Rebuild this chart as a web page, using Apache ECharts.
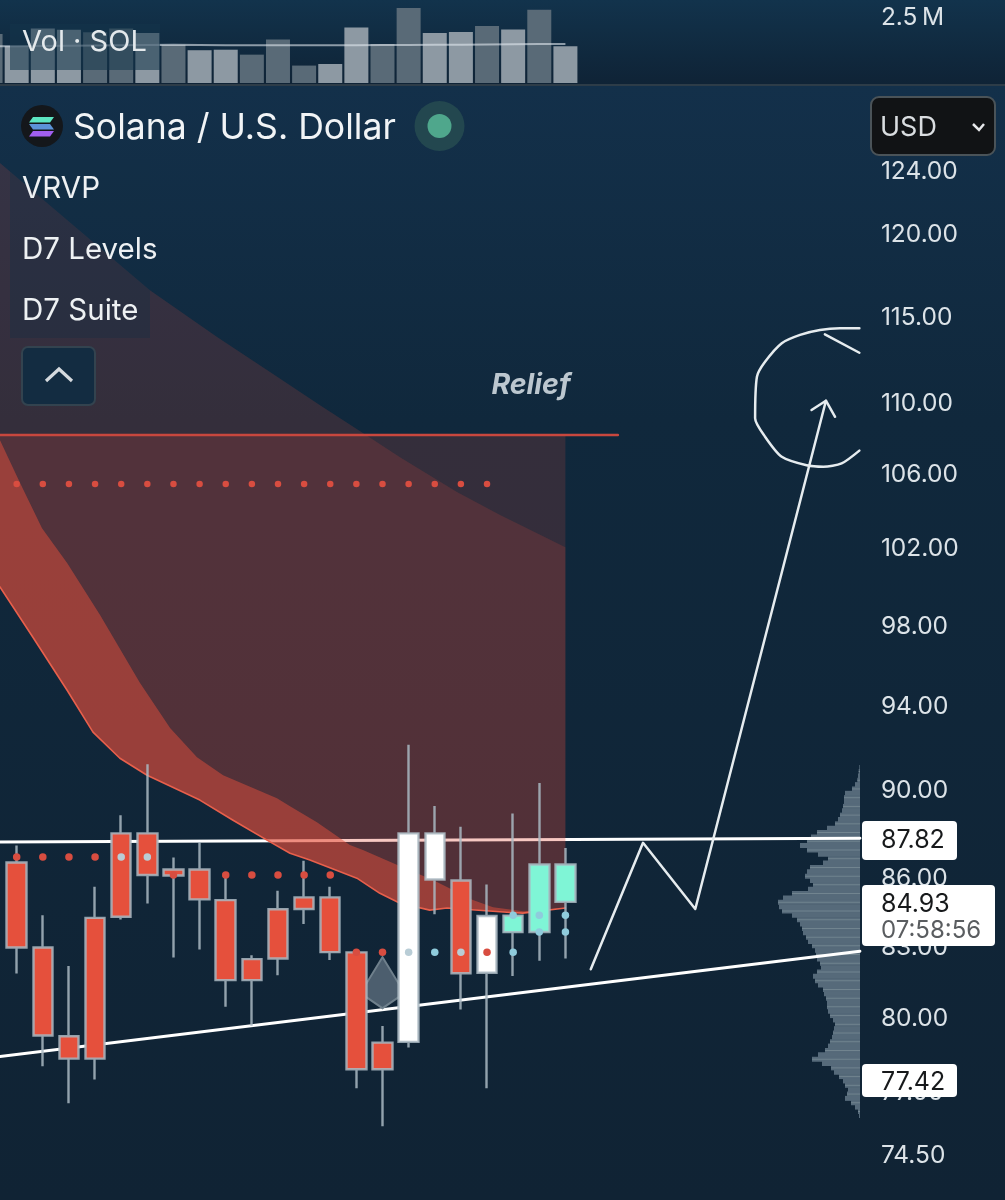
<!DOCTYPE html>
<html><head><meta charset="utf-8">
<style>html,body{margin:0;padding:0}
#c{width:1005px;height:1200px;background:linear-gradient(#12334c 0,#0f2336 84px,#13304a 86px,#10283c 420px,#102334 1200px)}</style>
<script src="https://cdn.jsdelivr.net/npm/echarts@6/dist/echarts.min.js"></script>
</head><body><div id="c"></div>
<script>
// ---- data ----
const candles = [ // open, close, low, high
 ['-','-','-','-'],
 [86.72,82.99,81.88,87.49],[82.99,79.29,78.04,84.39],[79.26,78.35,76.56,82.20],[84.27,78.35,77.51,85.64],
 [88.04,84.32,84.20,88.87],[88.04,86.16,84.90,91.25],[86.41,86.14,82.56,86.95],[86.41,85.08,82.90,87.65],
 [85.05,81.60,80.48,86.16],[82.49,81.60,79.69,82.66],[84.65,82.52,81.80,85.46],[85.17,84.66,84.00,86.80],
 [85.17,82.79,82.45,85.64],[82.78,77.92,77.16,82.79],[79.00,77.92,75.65,79.68],[88.04,79.03,78.80,92.17],
 [88.04,85.96,84.43,89.30],[85.92,81.89,80.37,88.34],[84.35,81.91,77.16,85.74],[83.65,84.37,81.77,88.95],
 [83.66,86.63,82.42,90.37],[84.97,86.63,82.52,87.38]];
const candleKinds = ['r','r','r','r','r','r','r','r','r','r','r','r','r','r','r','r','w','w','r','w','t','t','t'];
const volumes = [1.88,1.41,2.09,2.05,1.95,2.09,1.92,1.47,1.26,1.28,1.09,1.67,0.67,0.73,2.13,1.50,2.88,1.92,1.96,2.19,2.06,2.82,1.41];
const volumeKinds = ['d','l','l','l','d','d','l','d','l','l','d','d','d','l','l','d','d','l','l','d','l','d','l'];
const volumeAverage = [1.41,1.41,1.42,1.43,1.44,1.45,1.46,1.47,1.46,1.45,1.45,1.45,1.45,1.45,1.45,1.46,1.46,1.47,1.47,1.48,1.49,1.50,1.50];
const categories = Array.from({length:34},(_,i)=>'Bar '+i);
const priceTicks = [74.5,77,80,83,86,90,94,98,102,106,110,115,120,124];
const volumeTicks = [2.5];
const profile = [0.7,1.3,2,2.7,5,8,15,16,16,17,18,20,22,25,33,43,49,53,60,53,42,32,37,50,53,55,50,47,52,68,77,82,81,78,68,63,60,58,57,54,52,48,45,44,43,40,39,43,47,45,42,37,36,34,33,33,32,30,27,25,26,27,28,30,32,35,42,48,38,29,26,21,17,15,12,13,15,9,5,2,1];
const redDots = [[1,86.97],[2,86.97],[3,86.97],[4,86.97],[7,86.16],[9,86.16],[10,86.16],[11,86.16],[12,86.16],[13,86.16],[14,82.78],[15,82.78],[19,82.78]];
const paleDots = [[5,86.97],[6,86.97],[16,82.78],[18,82.78]];
const blueDots = [[17,82.78],[20,82.78],[20,84.39],[21,84.39],[22,84.39],[21,83.66],[22,83.66]];
const upperDots = [1,2,3,4,5,6,7,8,9,10,11,12,13,14,15,16,17,18,19].map(i=>[i,105.49]);
const cloudTop = [[.36,124.57],[6.10,116.63],[8.67,113.83],[10.58,111.90],[12.61,109.89],[14.25,108.31],[15.67,106.97],[17.85,105.06],[19.50,103.82],[22,102.10]];
const bandUpper = [[.36,107.92],[1.13,105.55],[1.97,103.11],[2.93,101.26],[4.19,98.58],[5.72,95.17],[6.87,92.97],[7.90,91.58],[8.90,90.73],[10.96,89.66],[11.46,89.29],[12.49,88.55],[13.75,87.51],[14.25,87.28],[15.59,86.60],[16.93,85.94],[18.46,85.05],[19.23,84.74],[20.39,84.56],[22,84.70]];
const bandLower = [[.36,100.02],[1.62,97.45],[2.93,94.81],[3.92,92.78],[4.95,91.53],[5.99,90.73],[8.01,89.57],[9.28,88.64],[10.58,87.73],[11.46,87.14],[12.22,86.83],[14.02,86.02],[14.90,85.35],[15.67,84.91],[16.81,84.61],[17.47,84.70],[19.76,84.52],[20.37,84.48],[22,84.70]];
const reliefLevel = 108.2;
const reliefLine = [[.36,reliefLevel],[24.01,reliefLevel]];
const resistance = [[.36,87.65],[33.27,87.82]];
const support = [[.36,78.44],[33.27,82.83]];
const pathArrow = [[22.97,82.06],[24.97,87.61],[26.97,84.66],[31.97,110.14]];
const arrowHead = [[31.42,109.61],[31.97,110.14],[32.32,109.23]];
const targetRing = [[33.25,114.35],[32.51,114.35],[31.74,114.25],[30.98,113.96],[30.28,113.47],[29.64,112.38],[29.33,111.52],[29.26,109.14],[29.64,108.11],[30.28,106.99],[31.23,106.52],[31.87,106.44],[32.57,106.62],[33.25,107.33]];
const targetTick = [[31.93,113.99],[33.25,112.91]];
const patternMark = [[15,81.49]];

// ---- styles ----
const RED='#e5503c', WHITE='#ffffff', TEAL='#7ff5d6', EDGE='rgba(170,184,194,.85)';
const kindColor={r:RED,w:WHITE,t:TEAL};
const FONT='Inter, "Noto Sans", sans-serif';
const grayLabel={color:'#dce3e8',fontSize:24.5,fontFamily:FONT,align:'left',margin:15,padding:[6,0,0,0]};

function polygon(name,pts,fill,z,stroke){
  return {type:'custom',name,xAxisIndex:1,yAxisIndex:0,z,silent:true,data:pts,encode:{x:0,y:1},
    renderItem(params,api){
      if(params.dataIndex!==0) return null;
      return {type:'polygon',shape:{points:pts.map(p=>api.coord(p))},style:{fill,stroke:stroke||null,lineWidth:stroke?1.5:0}};
    }};
}
function stroke(name,pts,color,width,z,smooth){
  return {type:'line',name,xAxisIndex:1,yAxisIndex:0,data:pts,showSymbol:false,symbol:'none',silent:true,z,smooth:smooth||false,
    lineStyle:{color,width,cap:'round',join:'round'},clip:false};
}
function dots(name,pts,color,size,z){
  return {type:'scatter',name,xAxisIndex:1,yAxisIndex:0,data:pts,symbolSize:size,silent:true,z,itemStyle:{color,opacity:1}};
}
const cloudPoly = cloudTop.concat(bandLower.slice().reverse());
const reliefPoly = [[.36,reliefLevel],[22,reliefLevel]].concat(bandLower.slice().reverse());
const bandPoly = bandUpper.concat(bandLower.slice().reverse());

const series=[
  stroke('Resistance',resistance,'#ffffff',3,2),
  stroke('Support',support,'#ffffff',3,2),
  polygon('Cloud',cloudPoly,'rgba(229,80,60,.17)',3),
  polygon('Relief zone',reliefPoly,'rgba(229,80,60,.17)',3),
  polygon('Band',bandPoly,'rgba(229,80,60,.49)',4),
  stroke('Band edge',bandLower,'#e8604c',1.6,4),
  stroke('Relief line',reliefLine,'#c8473e',2.4,4),
  {type:'scatter',name:'Pattern',xAxisIndex:1,yAxisIndex:0,data:patternMark,silent:true,z:5,
   symbol:'path://M22 0 L44 36 L22 51 L0 36 Z',symbolSize:[44,51],
   itemStyle:{color:'#4c5e6e',borderColor:'#6f808c',borderWidth:2,opacity:1}},
  {type:'candlestick',name:'SOLUSD',xAxisIndex:0,yAxisIndex:0,z:6,silent:true,barWidth:20,
   data:candles.map((v,i)=>{const c=kindColor[candleKinds[i]];
     return {value:v,itemStyle:{color:c,color0:c,borderColor:EDGE,borderColor0:EDGE,borderColorDoji:EDGE,borderWidth:2.4}};})},
  dots('Upper dots',upperDots,'#d84d40',6.5,7),
  dots('Red dots',redDots,'#d84d40',7.5,7),
  dots('Pale dots',paleDots,'#b9cdd6',7.5,7),
  dots('Blue dots',blueDots,'#8fcbdc',7.5,7),
  stroke('Projection',pathArrow,'#e6ecef',2.5,8),
  stroke('Arrow head',arrowHead,'#e6ecef',2.5,8),
  stroke('Target ring',targetRing,'#e6ecef',2.5,8,0.25),
  stroke('Target tick',targetTick,'#e6ecef',2.5,8),
  {type:'bar',name:'Volume',xAxisIndex:2,yAxisIndex:1,barWidth:24,silent:true,
   data:volumes.map((v,i)=>({value:v,itemStyle:{color:volumeKinds[i]==='l'?'#8d99a3':'#596a77'}}))},
  {type:'line',name:'Volume MA',xAxisIndex:2,yAxisIndex:1,data:volumeAverage,showSymbol:false,symbol:'none',silent:true,
   lineStyle:{color:'rgba(225,232,238,.6)',width:2}},
  {type:'bar',name:'Profile',xAxisIndex:3,yAxisIndex:2,data:profile,barWidth:5,silent:true,z:1,itemStyle:{color:'#566a7a'}},
  {type:'bar',name:'Profile rows',xAxisIndex:3,yAxisIndex:3,barWidth:1,silent:true,z:1,
   data:profile.map((v,i)=>i%2?v:null),itemStyle:{color:'#71848f'}}
];

const MAINLEFT=-22.5, MAINW=888.4;
const option={
  animation:false,
  backgroundColor:'transparent',
  grid:[
    {left:MAINLEFT,width:MAINW,top:86,height:1114,outerBoundsMode:'none'},
    {left:MAINLEFT,width:MAINW,top:0,height:83,outerBoundsMode:'none'},
    {left:760,width:100,top:765,height:353,outerBoundsMode:'none'}
  ],
  xAxis:[
    {type:'category',gridIndex:0,data:categories,show:false},
    {type:'value',gridIndex:0,min:-.5,max:33.5,show:false},
    {type:'category',gridIndex:1,data:categories,show:false},
    {type:'value',gridIndex:2,min:0,max:100,inverse:true,show:false}
  ],
  yAxis:[
    {type:'log',gridIndex:0,position:'right',logBase:10,min:72.82,max:129.63,scale:true,
     axisLine:{show:false},axisTick:{show:false},splitLine:{show:false},minorTick:{show:false},
     axisLabel:Object.assign({customValues:priceTicks,formatter:v=>Number(v).toFixed(2),showMinLabel:true,showMaxLabel:true},grayLabel)},
    {type:'value',gridIndex:1,position:'right',min:0,max:3.19,
     axisLine:{show:false},axisTick:{show:false},splitLine:{show:false},
     axisLabel:Object.assign({customValues:volumeTicks,formatter:v=>v+'\u2009M'},grayLabel)},
    {type:'category',gridIndex:2,inverse:true,data:profile.map((_,i)=>'r'+i),show:false},
    {type:'category',gridIndex:2,inverse:true,data:profile.map((_,i)=>'r'+i),show:false}
  ],
  series,
  graphic:{elements:[
    // top overlays
    {type:'rect',z:50,silent:true,shape:{x:0,y:84,width:1005,height:2},style:{fill:'#2d3c48'}},
    {type:'rect',z:50,silent:true,shape:{x:10,y:24,width:150,height:46},style:{fill:'rgba(20,52,74,.55)'}},
    {type:'text',z:51,silent:true,x:22,y:42,style:{text:'Vol · SOL',font:'400 29px '+FONT,fill:'#e4e9ec',verticalAlign:'middle'}},
    // header
    {type:'circle',z:50,silent:true,shape:{cx:42,cy:126,r:21},style:{fill:'#14171b'}},
    {type:'polygon',z:51,silent:true,shape:{points:[[33,117],[54,117],[50,122.5],[29,122.5]]},style:{fill:'#5de6c2'}},
    {type:'polygon',z:51,silent:true,shape:{points:[[29,124],[50,124],[54,129.5],[33,129.5]]},style:{fill:'#5c93d8'}},
    {type:'polygon',z:51,silent:true,shape:{points:[[33,131],[54,131],[50,136.5],[29,136.5]]},style:{fill:'#a25ff0'}},
    {type:'text',z:51,silent:true,x:73,y:128,style:{text:'Solana / U.S. Dollar',font:'400 35.6px '+FONT,fill:'#f1f4f6',verticalAlign:'middle'}},
    {type:'circle',z:50,silent:true,shape:{cx:439.5,cy:126,r:25},style:{fill:'#23474f'}},
    {type:'circle',z:51,silent:true,shape:{cx:439.5,cy:126,r:12},style:{fill:'#4fa78c'}},
    // USD selector
    {type:'rect',z:50,silent:true,shape:{x:871,y:97,width:124,height:58,r:8},style:{fill:'#111315',stroke:'#4a5358',lineWidth:2}},
    {type:'text',z:51,silent:true,x:880,y:128,style:{text:'USD',font:'400 27px '+FONT,fill:'#d9dde0',verticalAlign:'middle'}},
    {type:'polyline',z:51,silent:true,shape:{points:[[973,124],[979,130],[984,124]]},style:{stroke:'#e6e8ea',lineWidth:2.5,fill:null}},
    // indicator list
    {type:'rect',z:20,silent:true,shape:{x:10,y:160,width:140,height:178},style:{fill:'rgba(18,46,68,.32)'}},
    {type:'text',z:51,silent:true,x:22,y:189,style:{text:'VRVP',font:'400 29.5px '+FONT,fill:'#eef1f3',verticalAlign:'middle'}},
    {type:'text',z:51,silent:true,x:22,y:250,style:{text:'D7 Levels',font:'400 29.5px '+FONT,fill:'#eef1f3',verticalAlign:'middle'}},
    {type:'text',z:51,silent:true,x:22,y:311,style:{text:'D7 Suite',font:'400 29.5px '+FONT,fill:'#eef1f3',verticalAlign:'middle'}},
    {type:'rect',z:50,silent:true,shape:{x:22,y:347,width:73,height:58,r:6},style:{fill:'#132c41',stroke:'#33434f',lineWidth:2}},
    {type:'polyline',z:51,silent:true,shape:{points:[[46,381],[59,369],[72,381]]},style:{stroke:'#d5dade',lineWidth:3.2,fill:null}},
    {type:'text',z:51,silent:true,x:531,y:385,style:{text:'Relief',font:'italic 700 28.5px '+FONT,fill:'#bcc7cf',align:'center',verticalAlign:'middle'}},
    // price flags
    {type:'rect',z:50,silent:true,shape:{x:862,y:821,width:95,height:39,r:4},style:{fill:'#ffffff'}},
    {type:'text',z:51,silent:true,x:881,y:840,style:{text:'87.82',font:'400 25px '+FONT,fill:'#17191b',verticalAlign:'middle'}},
    {type:'rect',z:50,silent:true,shape:{x:862,y:885,width:133,height:61,r:4},style:{fill:'#ffffff'}},
    {type:'text',z:51,silent:true,x:881,y:904,style:{text:'84.93',font:'400 25px '+FONT,fill:'#17191b',verticalAlign:'middle'}},
    {type:'text',z:51,silent:true,x:881,y:931,style:{text:'07:58:56',font:'400 24px '+FONT,fill:'#5a5d60',verticalAlign:'middle'}},
    {type:'rect',z:50,silent:true,shape:{x:862,y:1064,width:95,height:33,r:4},style:{fill:'#ffffff'}},
    {type:'text',z:51,silent:true,x:881,y:1082,style:{text:'77.42',font:'400 25px '+FONT,fill:'#17191b',verticalAlign:'middle'}}
  ]}
};
const chart=echarts.init(document.getElementById('c'),null,{renderer:'canvas',width:1005,height:1200});
chart.setOption(option);
</script></body></html>
